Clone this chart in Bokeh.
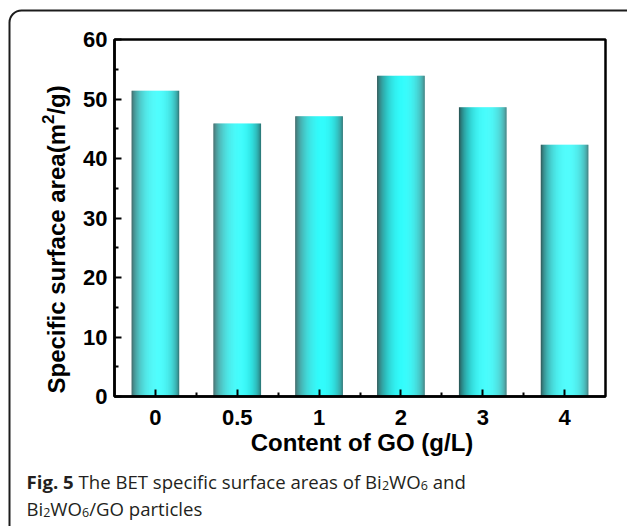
import subprocess

import numpy as np
from bokeh.embed import file_html
from bokeh.models import BoxAnnotation, FixedTicker, Label, Range1d
from bokeh.plotting import figure
from bokeh.resources import INLINE

# ---- data -------------------------------------------------------------
go_content = ["0", "0.5", "1", "2", "3", "4"]          # g/L
surface_area = [51.4, 45.9, 47.1, 53.9, 48.6, 42.3]     # m2/g
y_ticks = [0, 10, 20, 30, 40, 50, 60]
y_minor_ticks = [5, 15, 25, 35, 45, 55]

# ---- layout (pixels) --------------------------------------------------
W, H = 627, 526
LEFT, TOP, RIGHT, BOTTOM = 114, 39, 605, 396      # plot box inside the canvas
X0, X1 = -0.5, len(go_content) - 0.5
Y0, Y1 = 0, 60
BASE_FIX = 8        # Label places its alphabetic baseline this many px low

AXIS_FONT = "Liberation Sans"
CAPTION_FONT = "Open Sans"
CAPTION_COLOR = "#231f20"

# the frame spans the whole canvas; the plot box is the X0..X1 / Y0..Y1 region
x_per_px = (X1 - X0) / (RIGHT - LEFT)
y_per_px = (Y1 - Y0) / (BOTTOM - TOP)


def dx(px):
    """canvas x pixel -> data x"""
    return X0 + (px - LEFT) * x_per_px


def dy(py):
    """canvas y pixel (from top) -> data y"""
    return Y0 + (BOTTOM - py) * y_per_px


def make_measure(family, bold, size, approx):
    """Return a function giving the advance width (px) of a string."""
    try:
        from PIL import ImageFont
        spec = family + (":bold" if bold else "")
        path = subprocess.run(["fc-match", "-f", "%{file}", spec],
                              capture_output=True, text=True, timeout=5).stdout.strip()
        font = ImageFont.truetype(path, 200)
        if bold:
            try:
                for nm in font.get_variation_names():
                    if nm in (b"Bold", "Bold"):
                        font.set_variation_by_name(nm)
            except Exception:
                pass
        return lambda s: font.getlength(s) * size / 200.0
    except Exception:
        return lambda s: len(s) * approx * size


p = figure(
    width=W, height=H, min_border=0,
    x_range=Range1d(dx(0), dx(W)), y_range=Range1d(dy(H), dy(0)),
    output_backend="svg", toolbar_location=None,
)
p.xgrid.visible = False
p.ygrid.visible = False
p.background_fill_color = "white"
p.border_fill_color = "white"
p.outline_line_color = None

# ---- cylinder-shaded bars: each bar is a row of thin coloured strips ---
n_strip = 48
bar_w = 0.58
t = (np.arange(n_strip) + 0.5) / n_strip
normal = np.arcsin(2 * t - 1)
shade = 0.05 + 0.95 * np.clip(np.cos(normal - 0.12), 0, 1) ** 1.2
dark = np.array([40, 72, 72])
bright = np.array([50, 252, 252])
strip_cols = ["#%02x%02x%02x" % tuple(int(round(c)) for c in dark + (bright - dark) * s)
              for s in shade]

idx = np.arange(len(go_content))
xs = np.repeat(idx, n_strip) + np.tile((t - 0.5) * bar_w, len(go_content))
tops = np.repeat(surface_area, n_strip)
cols = strip_cols * len(go_content)
p.vbar(x=xs, top=tops, bottom=Y0, width=bar_w / n_strip * 1.2,
       fill_color=cols, line_color=None)

# plot box (top and right sides; left/bottom are covered by the axes)
p.add_layout(BoxAnnotation(left=X0, right=X1, bottom=Y0, top=Y1,
                           fill_color=None, line_color="black", line_alpha=1.0,
                           line_width=2.5))

# ---- axes pinned to the plot box --------------------------------------
p.xaxis.fixed_location = Y0
p.yaxis.fixed_location = X0
p.xaxis.bounds = (X0, X1)
p.yaxis.bounds = (Y0, Y1)
for ax in (p.xaxis, p.yaxis):
    ax.axis_line_width = 2.5
    ax.axis_line_color = "black"
    ax.major_tick_in = 7
    ax.major_tick_out = 0
    ax.minor_tick_in = 4
    ax.minor_tick_out = 0
    ax.major_tick_line_width = 2
    ax.minor_tick_line_width = 2
    ax.major_tick_line_color = "black"
    ax.minor_tick_line_color = "black"
    ax.major_label_text_font = AXIS_FONT
    ax.major_label_text_font_style = "bold"
    ax.major_label_text_font_size = "22px"
    ax.major_label_text_color = "black"

p.xaxis.ticker = FixedTicker(ticks=list(idx), minor_ticks=list(idx[:-1] + 0.5))
p.xaxis.major_label_overrides = {int(i): lab for i, lab in zip(idx, go_content)}
p.xaxis.major_label_standoff = 13
p.yaxis.ticker = FixedTicker(ticks=y_ticks, minor_ticks=y_minor_ticks)
p.yaxis.major_label_standoff = 7

# ---- axis titles ----------------------------------------------------------
title_size = 24
p.add_layout(Label(x=dx(361.5), y=dy(450 - BASE_FIX), text="Content of GO (g/L)",
                   text_font=AXIS_FONT, text_font_style="bold",
                   text_font_size=f"{title_size}px", text_align="center",
                   text_baseline="alphabetic", text_color="black"))

m_bold = make_measure(AXIS_FONT, True, title_size, 0.55)
sup_size = 17
ylab_parts = [("Specific surface area(m", title_size, 0),
              ("2", sup_size, 9),
              ("/g)", title_size, 0)]
pos = 393.0
for txt, size, raise_px in ylab_parts:
    p.add_layout(Label(x=dx(64 - BASE_FIX - raise_px), y=dy(pos), text=txt, angle=np.pi / 2,
                       text_font=AXIS_FONT, text_font_style="bold",
                       text_font_size=f"{size}px", text_align="left",
                       text_baseline="alphabetic", text_color="black"))
    pos -= m_bold(txt) * size / title_size

# ---- figure caption ---------------------------------------------------
cap_size = 18.6
sub_size = 12.5
sub_drop = 4
m_cap = make_measure(CAPTION_FONT, False, cap_size, 0.5)
m_cap_b = make_measure(CAPTION_FONT, True, cap_size, 0.55)

caption_lines = [
    (489, [("Fig. 5", "bold", False), (" The BET specific surface areas of Bi", "normal", False),
           ("2", "normal", True), ("WO", "normal", False), ("6", "normal", True),
           (" and", "normal", False)]),
    (516, [("Bi", "normal", False), ("2", "normal", True), ("WO", "normal", False),
           ("6", "normal", True), ("/GO particles", "normal", False)]),
]
for base, parts in caption_lines:
    cx = 26.0
    for txt, style, sub in parts:
        size = sub_size if sub else cap_size
        measure = m_cap_b if style == "bold" else m_cap
        body = txt.lstrip(" ")
        # leading blanks collapse in SVG text, so advance by their width instead
        cx += measure(txt[:len(txt) - len(body)]) * size / cap_size
        p.add_layout(Label(x=dx(cx), y=dy(base - BASE_FIX + (sub_drop if sub else 0)),
                           text=body, text_font=CAPTION_FONT, text_font_style=style,
                           text_font_size=f"{size}px", text_align="left",
                           text_baseline="alphabetic", text_color=CAPTION_COLOR))
        cx += measure(body) * size / cap_size

# ---- rounded outer frame ----------------------------------------------
p.add_layout(BoxAnnotation(left=dx(9), right=dx(639), top=dy(10), bottom=dy(570),
                           fill_color=None, line_color="#1c1c1c", line_alpha=1.0,
                           line_width=2, border_radius=12, level="overlay"))

open("out.html", "w").write(file_html(p, INLINE))
